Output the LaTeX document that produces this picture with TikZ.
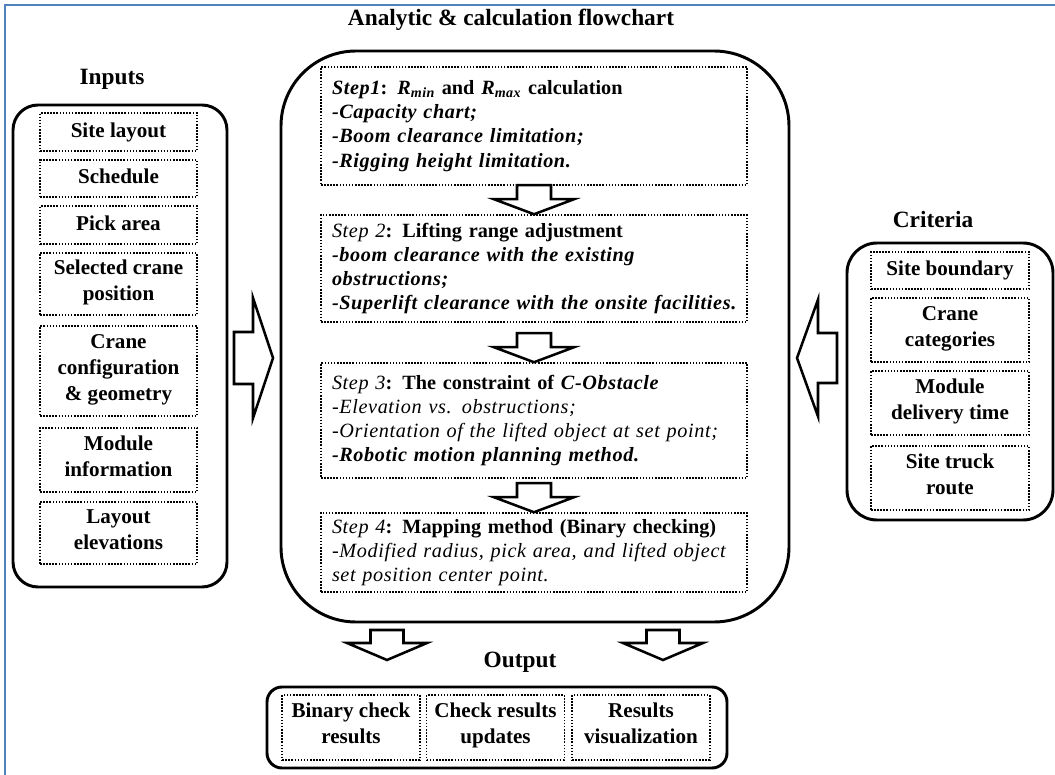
\documentclass[tikz,border=0pt]{standalone}
\usepackage{fontspec}
\setmainfont{Liberation Serif}[ItalicFeatures={LetterSpace=3}, BoldItalicFeatures={LetterSpace=3}]
\usetikzlibrary{positioning, calc}
\definecolor{FB}{RGB}{79,129,189}

\begin{document}
\begin{tikzpicture}[
  grp/.style={draw, line width=2.1pt, rounded corners=#1, inner sep=0pt},
  itm/.style={draw, line width=1.1pt, dash pattern=on 1.1pt off 1.1pt,
              align=center, inner sep=0pt,
              execute at begin node=\strut, execute at end node=\strut,
              font=\fontsize{15}{18.5}\selectfont\bfseries},
  stp/.style={draw, line width=1.1pt, dash pattern=on 1.1pt off 1.1pt,
              align=left, text width=10.1cm, inner xsep=0.275cm, inner ysep=0pt,
              minimum height=#1, font=\fontsize{14.4}{17.2}\selectfont\bfseries},
  hd/.style={font=\fontsize{16.6}{19}\selectfont\bfseries},
  barr/.style={draw, line width=1.8pt, fill=white, line join=miter}
]
\useasboundingbox (0,0) rectangle (26.375,-19.375);
\draw[FB, line width=1.6pt] (0.125,-19.375) -- (0.125,-0.125) -- (26.375,-0.125);

% Inputs
\node[hd] (inhd) at (2.8,-1.975) {Inputs};
\node[grp=0.625cm, minimum width=5.35cm, minimum height=12.05cm] (inbox) at (3.0,-8.65) {};
\foreach \n/\y/\h/\t in {
  in1/-3.3/0.95/Site layout,
  in2/-4.4625/0.925/Schedule,
  in3/-5.625/0.95/Pick area,
  in4/-7.1/1.55/Selected crane\\position,
  in5/-9.275/2.25/Crane\\configuration\\\& geometry,
  in6/-11.5/1.6/Module\\information,
  in7/-13.325/1.55/Layout\\elevations} {
  \node[itm, minimum width=3.925cm, minimum height=\h cm] (\n) at (2.9625,\y) {\t};
}

% Analytic flowchart
\node[hd] (flhd) at (12.775,-0.5) {Analytic \& calculation flowchart};
\node[grp=1.875cm, minimum width=12.7cm, minimum height=14.275cm] (flow) at (13.375,-8.4125) {};
\node[stp=2.95cm] (s1) at (13.35,-3.15)
  {{\itshape Step1}: {\itshape R}\textsubscript{\itshape min} and {\itshape R}\textsubscript{\itshape max} calculation\\
   {\itshape -Capacity chart;}\\
   {\itshape -Boom clearance limitation;}\\
   {\itshape -Rigging height limitation.}};
\node[stp=2.675cm] (s2) at (13.35,-6.7125)
  {{\mdseries\itshape Step 2}: Lifting range adjustment\\
   {\itshape -boom clearance with the existing}\\
   {\itshape obstructions;}\\
   {\itshape -Superlift clearance with the onsite facilities.}};
\node[stp=2.875cm] (s3) at (13.35,-10.5125)
  {{\mdseries\itshape Step 3}: The constraint of {\itshape C-Obstacle}\\
   {\mdseries\itshape -Elevation vs. obstructions;}\\
   {\mdseries\itshape -Orientation of the lifted object at set point;}\\
   {\itshape -Robotic motion planning method.}};
\node[stp=1.975cm] (s4) at (13.35,-13.8125)
  {{\mdseries\itshape Step 4}: Mapping method (Binary checking)\\
   {\mdseries\itshape -Modified radius, pick area, and lifted object}\\
   {\mdseries\itshape set position center point.}};

% Criteria
\node[hd] (crhd) at (23.325,-5.5) {Criteria};
\node[grp=0.75cm, minimum width=5.15cm, minimum height=6.925cm] (crbox) at (23.75,-9.5375) {};
\foreach \n/\y/\h/\t in {
  cr1/-6.7625/0.925/Site boundary,
  cr2/-8.25/1.6/Crane\\categories,
  cr3/-10.075/1.6/Module\\delivery time,
  cr4/-11.95/1.6/Site truck\\route} {
  \node[itm, minimum width=3.95cm, minimum height=\h cm] (\n) at (23.75,\y) {\t};
}

% Output
\node[hd] (ouhd) at (13.0,-16.55) {Output};
\node[grp=0.375cm, minimum width=11.5cm, minimum height=2.025cm] (oubox) at (12.425,-18.1875) {};
\foreach \n/\x/\t in {
  ou1/8.775/Binary check\\results,
  ou2/12.3875/Check results\\updates,
  ou3/16.025/Results\\visualization} {
  \node[itm, minimum width=3.44cm, minimum height=1.625cm] (\n) at (\x,-18.1875) {\t};
}

% block arrows
\foreach \tx/\ty/\rot/\L/\H/\hh/\th in {
  6.825/-8.95/0/0.975/0.5/1.5/0.65,
  19.925/-8.95/180/1.0/0.525/1.46/0.625,
  9.675/-16.5/-90/0.75/0.425/1.0/0.4125,
  16.575/-16.5/-90/0.75/0.425/1.0/0.4125} {
  \draw[barr, shift={(\tx,\ty)}, rotate=\rot]
    (0,0) -- (-\H,\hh) -- (-\H,\th) -- (-\L,\th) -- (-\L,-\th) -- (-\H,-\th) -- (-\H,-\hh) -- cycle;
}
\foreach \n in {s2,s3,s4} {
  \draw[barr, shift={(\n.north)}, rotate=-90]
    (0,0) -- (-0.375,1.0) -- (-0.375,0.425) -- (-0.725,0.425) -- (-0.725,-0.425) -- (-0.375,-0.425) -- (-0.375,-1.0) -- cycle;
}
\end{tikzpicture}
\end{document}
